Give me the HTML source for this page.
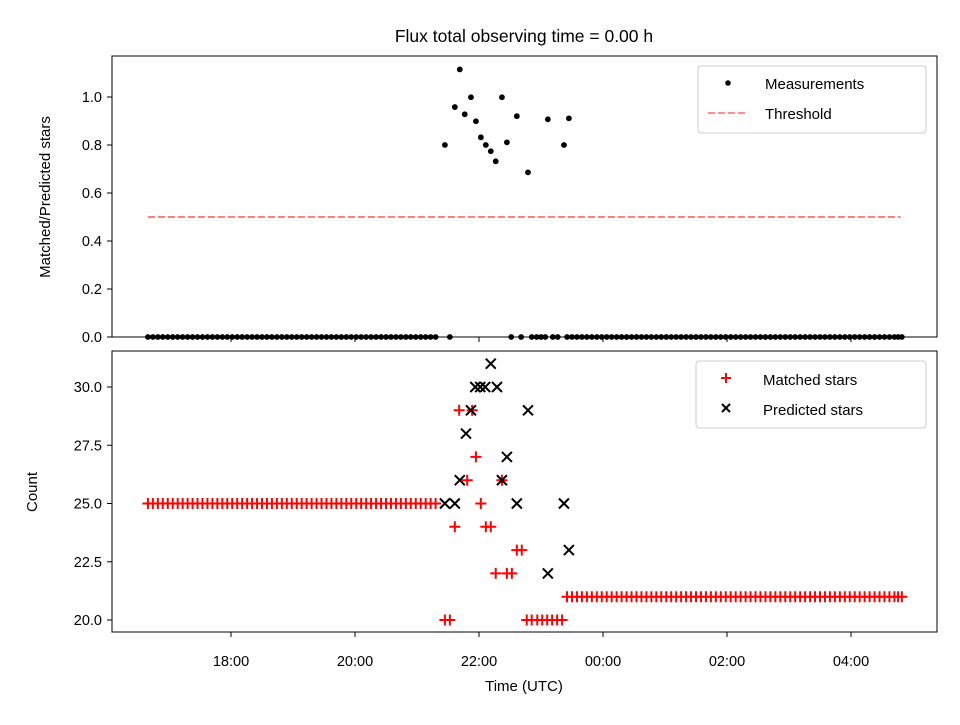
<!DOCTYPE html>
<html><head><meta charset="utf-8"><style>
body{margin:0;background:#fff}
svg{font-family:"Liberation Sans","DejaVu Sans",sans-serif}
</style></head><body>
<svg id="chart" width="960" height="720" xmlns="http://www.w3.org/2000/svg">
<rect width="960" height="720" fill="#fff"/>
<text x="524" y="42" font-size="17.5" text-anchor="middle">Flux total observing time = 0.00 h</text>
<g id="topPanel"></g>
<g id="botPanel"></g>
<rect x="112" y="56" width="825" height="281" fill="none" stroke="#000" stroke-width="1"/>
<rect x="112" y="351" width="825" height="281" fill="none" stroke="#000" stroke-width="1"/>
<text transform="translate(50,197) rotate(-90)" font-size="15" text-anchor="middle">Matched/Predicted stars</text>
<text transform="translate(37,492) rotate(-90)" font-size="15" text-anchor="middle">Count</text>
<text x="524" y="691" font-size="15" text-anchor="middle">Time (UTC)</text>
<g>
<rect x="698" y="66" width="228" height="67" rx="3" fill="#fff" stroke="#ccc"/>
<circle cx="728" cy="83" r="2.8" fill="#000"/>
<text x="765" y="89" font-size="15">Measurements</text>
<line x1="708" y1="113" x2="748" y2="113" stroke="#ff7f7f" stroke-width="1.8" stroke-dasharray="7,3"/>
<text x="765" y="119" font-size="15">Threshold</text>
</g>
<g>
<rect x="696" y="361" width="230" height="67" rx="3" fill="#fff" stroke="#ccc"/>
<path d="M721,378h10M726,373v10" stroke="red" stroke-width="2"/>
<text x="763" y="385" font-size="15">Matched stars</text>
<path d="M722,404l8,8M730,404l-8,8" stroke="#000" stroke-width="2"/>
<text x="763" y="415" font-size="15">Predicted stars</text>
</g>
</svg>
<script>
const xTicks=[18,20,22,24,26,28];
const xTickLabels=["18:00","20:00","22:00","00:00","02:00","04:00"];
const topTicks=[0,0.2,0.4,0.6,0.8,1.0];
const topTickLabels=["0.0","0.2","0.4","0.6","0.8","1.0"];
const botTicks=[20,22.5,25,27.5,30];
const botTickLabels=["20.0","22.5","25.0","27.5","30.0"];
const threshold=0.5;
const thresholdRange=[16.66,28.8];
const leftTimes=[16.66,16.74,16.82,16.90,16.98,17.06,17.14,17.22,17.30,17.38,17.46,17.54,17.62,17.70,17.78,17.86,17.94,18.02,18.10,18.18,18.26,18.34,18.42,18.50,18.58,18.66,18.74,18.82,18.90,18.98,19.06,19.14,19.22,19.30,19.38,19.46,19.54,19.62,19.70,19.78,19.86,19.94,20.02,20.10,20.18,20.26,20.34,20.42,20.50,20.58,20.66,20.74,20.82,20.90,20.98,21.06,21.14,21.22,21.30];
const rightTimes=[23.42,23.50,23.58,23.66,23.74,23.82,23.90,23.98,24.06,24.14,24.22,24.30,24.38,24.46,24.54,24.62,24.70,24.78,24.86,24.94,25.02,25.10,25.18,25.26,25.34,25.42,25.50,25.58,25.66,25.74,25.82,25.90,25.98,26.06,26.14,26.22,26.30,26.38,26.46,26.54,26.62,26.70,26.78,26.86,26.94,27.02,27.10,27.18,27.26,27.34,27.42,27.50,27.58,27.66,27.74,27.82,27.90,27.98,28.06,28.14,28.22,28.30,28.38,28.46,28.54,28.62,28.70,28.76,28.82];
const leftMatchedLevel=25;
const rightMatchedLevel=21;
const measTimes=[21.45,21.61,21.69,21.77,21.87,21.95,22.03,22.11,22.19,22.27,22.37,22.45,22.61,22.79,23.11,23.37,23.45,21.53,22.52,22.68,22.85,22.93,23.00,23.07,23.19,23.27];
const measValues=[0.80,0.958,1.115,0.928,0.999,0.899,0.832,0.80,0.774,0.732,0.999,0.811,0.92,0.686,0.907,0.80,0.911,0,0,0,0,0,0,0,0,0];
const matchedTimes=[21.45,21.53,21.61,21.68,21.81,21.89,21.95,22.03,22.11,22.19,22.27,22.37,22.45,22.53,22.61,22.69,22.77,22.85,22.94,23.02,23.10,23.18,23.26,23.34];
const matchedValues=[20,20,24,29,26,29,27,25,24,24,22,26,22,22,23,23,20,20,20,20,20,20,20,20];
const predTimes=[21.45,21.61,21.69,21.79,21.87,21.94,22.02,22.10,22.19,22.29,22.37,22.45,22.61,22.79,23.11,23.37,23.45];
const predValues=[25,25,26,28,29,30,30,30,31,30,26,27,25,29,22,25,23];

const NS="http://www.w3.org/2000/svg";
const X=t=>231+(t-18)*62;
const YT=v=>337-v*240;
const YB=v=>620-(v-20)*23.3;
function mk(parent,tag,attrs){const e=document.createElementNS(NS,tag);for(const k in attrs)e.setAttribute(k,attrs[k]);parent.appendChild(e);return e;}
const topG=document.getElementById('topPanel'),botG=document.getElementById('botPanel');
xTicks.forEach((t,i)=>{
  let a=mk(topG,'line',{x1:X(t),x2:X(t),y1:337,y2:342,stroke:'#000'});
  
  
  let b=mk(botG,'line',{x1:X(t),x2:X(t),y1:632,y2:637,stroke:'#000'});
  
  
  let l=mk(botG,'text',{x:X(t),y:666,'font-size':14.5,'text-anchor':'middle'});l.textContent=xTickLabels[i];
  
  
});
topTicks.forEach((v,i)=>{
  let a=mk(topG,'line',{x1:107,x2:112,y1:YT(v),y2:YT(v),stroke:'#000'});
  
  
  let l=mk(topG,'text',{x:102,y:YT(v)+5,'font-size':14.5,'text-anchor':'end'});l.textContent=topTickLabels[i];
  
  
});
botTicks.forEach((v,i)=>{
  let a=mk(botG,'line',{x1:107,x2:112,y1:YB(v),y2:YB(v),stroke:'#000'});
  
  
  let l=mk(botG,'text',{x:102,y:YB(v)+5,'font-size':14.5,'text-anchor':'end'});l.textContent=botTickLabels[i];
  
  
});
let th=mk(topG,'line',{x1:X(thresholdRange[0]),x2:X(thresholdRange[1]),y1:YT(threshold),y2:YT(threshold),stroke:'#ff7f7f','stroke-width':2,'stroke-dasharray':'7,3'});


function dot(t,v){let c=mk(topG,'circle',{cx:X(t),cy:YT(v),r:2.9,fill:'#000'});
  
  }
leftTimes.forEach(t=>dot(t,0));
rightTimes.forEach(t=>dot(t,0));
measTimes.forEach((t,i)=>dot(t,measValues[i]));
function plus(t,v){const x=X(t),y=YB(v);let p=mk(botG,'path',{d:`M${x-5.5},${y}h11M${x},${y-5.5}v11`,stroke:'red','stroke-width':2});
  
  }
function cross(t,v){const x=X(t),y=YB(v);let p=mk(botG,'path',{d:`M${x-5},${y-5}l10,10M${x+5},${y-5}l-10,10`,stroke:'#000','stroke-width':2});
  
  }
leftTimes.forEach(t=>plus(t,leftMatchedLevel));
rightTimes.forEach(t=>plus(t,rightMatchedLevel));
matchedTimes.forEach((t,i)=>plus(t,matchedValues[i]));
predTimes.forEach((t,i)=>cross(t,predValues[i]));
</script>
</body></html>
